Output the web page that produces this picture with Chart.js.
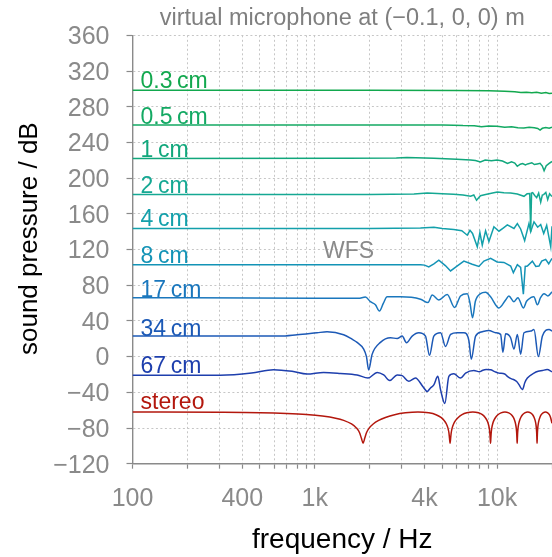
<!DOCTYPE html>
<html>
<head>
<meta charset="utf-8">
<script src="https://cdn.jsdelivr.net/npm/chart.js@4"></script>
<style>
  html, body { margin: 0; padding: 0; background: #fff; }
  #wrap { width: 552px; height: 557px; }
</style>
</head>
<body>
<div id="wrap"><canvas id="chart" width="552" height="557"></canvas></div>
<script>
// frequency ticks (grid) and the ones that get a label
const xGridTicks = [100, 200, 300, 400, 500, 600, 700, 800, 900,
                    1000, 2000, 3000, 4000, 5000, 6000, 7000, 8000, 9000, 10000, 20000];
const xTickLabels = { 100: '100', 400: '400', 1000: '1k', 4000: '4k', 10000: '10k' };

// [frequency in Hz, level in dB]
const wfs03 = [[100,298.4],[2000,298.4],[6000,298.2],[9000,297.8],[11000,297.4],[12500,296.8],[13500,295.8],
  [14500,296.3],[15500,295.6],[16500,296.2],[17500,295.2],[18500,295.8],[19300,294.8],[20000,295.2]];

const wfs05 = [[100,259.5],[5000,259.5],[5800,259.2],[6500,258.8],[7500,258.6],[8200,257.5],[9000,258.5],
  [10000,258.1],[11000,257],[12000,257.6],[13000,256.4],[14000,256.2],[15000,257],[16000,256.4],[16700,255.6],
  [17200,253.8],[17700,255.8],[18500,256.6],[19300,255.8],[20000,257]];

const wfs1 = [[100,222],[1500,222.2],[2800,222.5],[3200,223.2],[4500,222.3],[6000,221.2],[7150,220.3],[7600,219.6],
  [8100,218.2],[8600,220.2],[9300,219.4],[10000,220.4],[10700,219.2],[11400,216.4],[12000,218.2],[12500,216.8],
  [12900,213.2],[13400,215.6],[13800,216.4],[14300,214.8],[14700,215.9],[15500,217.2],[16000,215.2],[16600,215.9],
  [17200,216.6],[17700,213.5],[18100,208.2],[18600,213.8],[19300,216.5],[20000,218.6]];

const wfs2 = [[100,181.5],[2000,181.5],[3500,182.2],[4135,183.2],[5000,182.6],[5768,182],[6500,181],[7152,179.6],
  [7450,181],[7713,175.2],[8100,180.2],[8644,181.6],[9300,183],[10025,184.3],[10900,183.6],[11860,183.4],
  [12900,182.2],[14040,179.6],[14600,182.4],[15100,182.6],[15280,140],[15450,183.2],[15670,183.7],[16080,180.5],
  [16480,178.1],[16900,183.2],[17340,173],[17700,181],[18000,181.5],[18500,184],[18940,175.9],[19400,182.5],[20000,179.3]];

const wfs4 = [[100,143.5],[2000,143.5],[3800,144],[4500,145],[5000,143.5],[5788,142.5],[6400,141],[6860,136],
  [7100,141.5],[7330,138],[7785,123],[8045,139],[8290,125],[8645,141],[9016,129],[9604,145.5],[10230,140.5],
  [10800,144],[11376,147.5],[12373,143.5],[12912,149],[13460,143],[14160,130],[14950,149],[15280,140],[15930,151],
  [16690,145],[17340,148],[18010,138],[18700,147],[19680,123],[20000,146]];

const wfs8 = [[100,103],[3000,103],[3802,103],[4000,102.5],[4219,100.5],[4500,104],[4788,108],[5200,102],[5554,96],
  [6000,101],[6571,107],[7300,103.5],[7943,101],[8463,107],[9212,110],[10000,106],[10900,105.5],[11866,101.5],
  [12274,94],[12912,103],[13460,100],[13930,70],[14260,101],[14656,101.5],[15610,107],[16300,101],[16970,101.5],
  [17560,107],[18460,109],[19190,104],[20000,110]];

const wfs17 = [[100,66],[1000,65.5],[1734,65.3],[1895,66.7],[2018,61.5],[2150,58],[2262,51],[2379,60],[2493,67],
  [2951,67],[3802,64.3],[4177,60.5],[4406,69],[4788,63.5],[5325,69.5],[5842,55],[6300,68],[6860,70.5],[7100,60],
  [7330,43.5],[7600,62],[8110,70.5],[8645,72],[9210,67],[10230,54.5],[11135,63.5],[11600,68],[12373,61.5],
  [13000,66],[13930,54.5],[14500,62],[15280,66],[15900,67],[16630,58],[17300,66],[18080,70.5],[19000,68],[20000,72.5]];

const wfs34 = [[100,23],[400,23],[646,23],[800,24.5],[1028,26.7],[1167,27.8],[1439,24.5],[1600,19.5],[1706,15.9],
  [1854,8.4],[1920,0],[1975,-15],[2062,2.5],[2291,15.9],[2600,21.1],[2829,20.3],[3015,23],[3183,15.6],[3420,23],
  [3718,26.7],[4047,23],[4257,1.4],[4496,23],[4897,26.7],[5212,11.4],[5558,24.9],[6044,26.7],[6571,26.7],[7000,18],
  [7216,-3],[7619,23],[8290,27.8],[9016,29.2],[9813,26.7],[10450,24.9],[10763,4.8],[11135,25.6],[11860,21.1],
  [12373,8.4],[12912,24.9],[13460,2.7],[14040,26.7],[15280,28.6],[15930,30.3],[16840,0],[17720,23],[19260,30.3],[20000,28.6]];

const wfs67 = [[100,-21],[303,-21],[450,-18.5],[594,-14.6],[750,-16.5],[906,-19.6],[1117,-17.7],[1381,-18.8],
  [1706,-20.6],[1960,-24],[2197,-17.7],[2388,-20.6],[2576,-26.9],[2829,-20.6],[3015,-21.3],[3276,-27.7],[3566,-24],
  [3930,-34],[4135,-39],[4300,-35.4],[4496,-31.7],[4728,-22.1],[4897,-37.3],[5167,-52.5],[5436,-22.1],[5788,-19.3],
  [6300,-24],[6714,-18.5],[7457,-15.6],[8000,-17],[8290,-15.6],[8700,-14.5],[9210,-14.8],[9700,-16.8],[10230,-18.5],
  [11000,-19.5],[11376,-22.1],[12000,-25],[12373,-25.9],[12800,-28],[13180,-31.4],[13760,-37],[14200,-29],
  [14656,-24],[15930,-18.5],[16800,-16.5],[17720,-15.6],[18800,-14.5],[20000,-17]];

const stereo = [[100,-62],[300,-62.3],[500,-62.8],[700,-63.7],[900,-64.9],[1100,-66.6],[1300,-69],[1440,-71.5],
  [1590,-75.5],[1690,-79.9],[1760,-85.3],[1800,-91.3],[1840,-97],[1880,-91.3],[1920,-85.3],[1990,-79.9],[2090,-75.5],
  [2240,-71.5],[2440,-68.2],[2740,-65.1],[3140,-63],[3680,-62],[4220,-63],[4620,-65.1],[4920,-68.2],[5120,-71.5],
  [5270,-75.5],[5370,-79.9],[5440,-85.3],[5480,-91.3],[5520,-97],[5560,-91.3],[5600,-85.3],[5670,-79.9],[5770,-75.5],
  [5920,-71.5],[6120,-68.2],[6420,-65.1],[6820,-63],[7360,-62],[7900,-63],[8300,-65.1],[8600,-68.2],[8800,-71.5],
  [8950,-75.5],[9050,-79.9],[9120,-85.3],[9160,-91.3],[9200,-97],[9240,-91.3],[9280,-85.3],[9350,-79.9],[9450,-75.5],
  [9600,-71.5],[9800,-68.2],[10100,-65.1],[10500,-63],[11040,-62],[11580,-63],[11980,-65.1],[12280,-68.2],
  [12480,-71.5],[12630,-75.5],[12730,-79.9],[12800,-85.3],[12840,-91.3],[12880,-97],[12920,-91.3],[12960,-85.3],
  [13030,-79.9],[13130,-75.5],[13280,-71.5],[13480,-68.2],[13780,-65.1],[14180,-63],[14720,-62],[15260,-63],
  [15660,-65.1],[15960,-68.2],[16160,-71.5],[16310,-75.5],[16410,-79.9],[16480,-85.3],[16520,-91.3],[16560,-97],
  [16600,-91.3],[16640,-85.3],[16710,-79.9],[16810,-75.5],[16960,-71.5],[17160,-68.2],[17460,-65.1],[17860,-63],
  [18400,-62],[18940,-63],[19340,-65.1],[19640,-68.2],[20000,-74.8]];

const seriesNames = ['0.3\u2009cm', '0.5\u2009cm', '1\u2009cm', '2\u2009cm', '4\u2009cm', '8\u2009cm',
                     '17\u2009cm', '34\u2009cm', '67\u2009cm', 'stereo'];
const seriesData = [wfs03, wfs05, wfs1, wfs2, wfs4, wfs8, wfs17, wfs34, wfs67, stereo];
// level (dB) where each name sits, just above its curve
const labelLevels = [300.6, 260.6, 223.3, 183.6, 146.3, 104.5, 67.1, 23.1, -18, -58.5];

const colors = ['#12a84e', '#13a963', '#11a77c', '#15a893', '#13a0ab', '#1393b6',
                '#1a77bd', '#1c59b6', '#1e3fad', '#b3170d'];
const smoothCurves = [6, 7, 8, 9];

const FONT = "'Liberation Sans', Arial, sans-serif";
const GRAY = '#8a8a8a';
const GRID = '#c6c6c6';

const curveLabels = {
  id: 'curveLabels',
  afterDatasetsDraw(chart) {
    const { ctx, scales: { x, y } } = chart;
    ctx.save();
    ctx.font = '23px ' + FONT;
    ctx.textAlign = 'left';
    ctx.textBaseline = 'alphabetic';
    seriesNames.forEach((name, i) => {
      ctx.fillStyle = colors[i];
      ctx.fillText(name, x.getPixelForValue(100) + 8, y.getPixelForValue(labelLevels[i]));
    });
    ctx.fillStyle = GRAY;
    ctx.fillText('WFS', x.getPixelForValue(1110), y.getPixelForValue(110));
    ctx.restore();
  }
};

new Chart(document.getElementById('chart'), {
  type: 'line',
  data: {
    datasets: seriesData.map((d, i) => ({
      label: seriesNames[i],
      data: d.map(p => ({ x: p[0], y: p[1] })),
      borderColor: colors[i],
      borderWidth: 1.5,
      pointRadius: 0,
      tension: 0,
      cubicInterpolationMode: smoothCurves.includes(i) ? 'monotone' : 'default',
      fill: false
    }))
  },
  options: {
    responsive: false,
    animation: false,
    layout: { padding: 0 },
    plugins: {
      legend: { display: false },
      tooltip: { enabled: false }
    },
    scales: {
      top: {
        type: 'logarithmic',
        position: 'top',
        min: 100,
        max: 20000,
        ticks: { display: false },
        grid: { display: false },
        border: { display: false },
        afterFit: (scale) => { scale.height = 35.3; scale.paddingLeft = 0; scale.paddingRight = 0; },
        title: {
          display: true,
          text: 'virtual microphone at (\u22120.1, 0, 0) m',
          color: '#7f7f7f',
          font: { size: 23.5, family: FONT },
          padding: { top: 4.5, bottom: 0 }
        }
      },
      x: {
        type: 'logarithmic',
        min: 100,
        max: 20000,
        afterBuildTicks: (scale) => { scale.ticks = xGridTicks.map(v => ({ value: v })); },
        afterFit: (scale) => { scale.height = 93.3; scale.paddingLeft = 0; scale.paddingRight = 0; },
        ticks: {
          autoSkip: false,
          maxRotation: 0,
          padding: 15,
          color: GRAY,
          font: { size: 25, family: FONT },
          callback: (v) => xTickLabels[v] || ''
        },
        grid: { color: GRID, lineWidth: 1, tickLength: 5, tickColor: GRAY, tickWidth: 1.2 },
        border: { color: GRAY, width: 1.4, dash: [2, 2.5] },
        title: {
          display: true,
          text: 'frequency / Hz',
          color: '#000',
          font: { size: 28, family: FONT },
          padding: { top: 0, bottom: 0 }
        }
      },
      y: {
        min: -120,
        max: 360,
        afterFit: (scale) => { scale.width = 132.5; },
        ticks: {
          stepSize: 40,
          padding: 17,
          labelOffset: 2,
          color: GRAY,
          font: { size: 25, family: FONT },
          callback: (v) => String(v).replace('-', '\u2212')
        },
        grid: { color: GRID, lineWidth: 1, tickLength: 6, tickColor: GRAY, tickWidth: 1.2 },
        border: { color: GRAY, width: 1.4, dash: [2, 2.5] },
        title: {
          display: true,
          text: '   sound pressure / dB',
          color: '#000',
          font: { size: 26, family: FONT },
          padding: { top: 14, bottom: 0 }
        }
      }
    }
  },
  plugins: [curveLabels]
});
</script>
</body>
</html>
